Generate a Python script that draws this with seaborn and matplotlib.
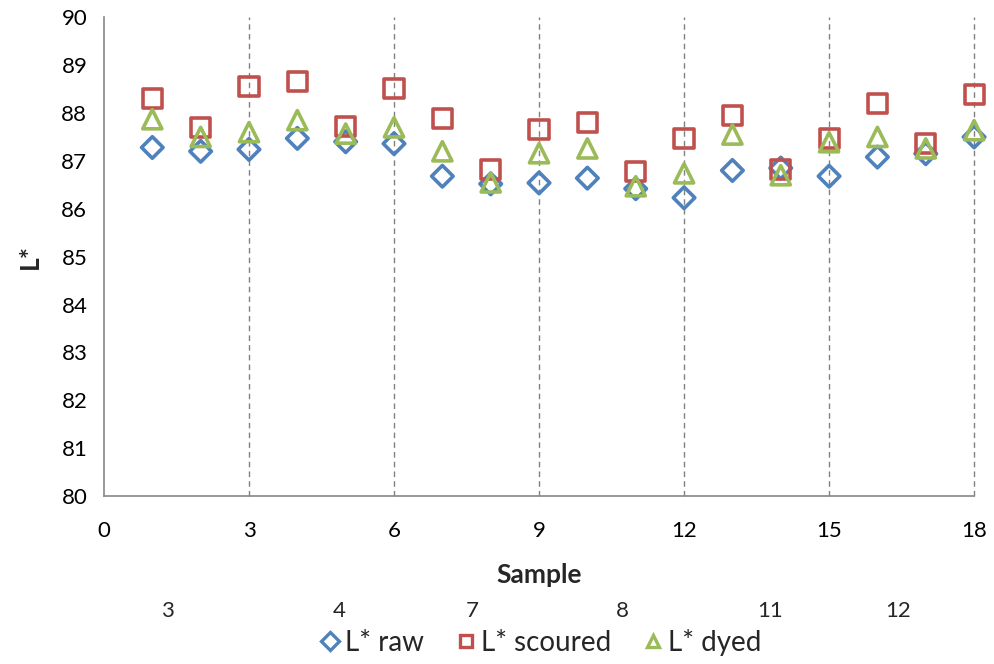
import matplotlib
matplotlib.use("Agg")
import matplotlib.pyplot as plt
import matplotlib.transforms as mtransforms
from matplotlib.lines import Line2D
import pandas as pd
import seaborn as sns

# Data
samples = list(range(1, 19))
l_raw = [87.28, 87.2, 87.24, 87.47, 87.4, 87.36, 86.68, 86.52, 86.54, 86.64,
         86.42, 86.23, 86.8, 86.85, 86.68, 87.08, 87.15, 87.5]
l_scoured = [88.31, 87.7, 88.56, 88.65, 87.72, 88.52, 87.89, 86.82, 87.66, 87.8,
             86.78, 87.47, 87.95, 86.82, 87.47, 88.2, 87.37, 88.39]
l_dyed = [87.87, 87.5, 87.6, 87.85, 87.57, 87.7, 87.2, 86.55, 87.16, 87.26,
          86.47, 86.74, 87.55, 86.7, 87.39, 87.5, 87.26, 87.64]
x_ticks = [0, 3, 6, 9, 12, 15, 18]
group_labels = ["3", "4", "7", "8", "11", "12"]
group_pos = [1.32, 4.86, 7.61, 10.72, 13.78, 16.43]

series = [
    ("L* raw", l_raw, "#4F81BD", "D", 120),
    ("L* scoured", l_scoured, "#C0504D", "s", 190),
    ("L* dyed", l_dyed, "#9BBB59", "^", 190),
]

sns.set_style("white")
plt.rcParams["font.family"] = ["Lato", "DejaVu Sans"]

fig = plt.figure(figsize=(9.95, 6.64), dpi=100)
ax = fig.add_axes([0.1045, 0.253, 0.8745, 0.721])

for name, vals, col, mk, sz in series:
    df = pd.DataFrame({"Sample": samples, "L*": vals})
    sns.scatterplot(data=df, x="Sample", y="L*", ax=ax, marker=mk, s=sz,
                    color=col, linewidth=2.6, zorder=3, clip_on=False)
    pts = ax.collections[-1]
    pts.set_facecolor("none")
    pts.set_edgecolor(col)

ax.set_xlim(0, 18)
ax.set_ylim(80, 90)
ax.set_xticks(x_ticks)
ax.set_yticks(range(80, 91))
for xv in x_ticks[1:]:
    ax.axvline(xv, color="#808080", linestyle=(0, (4, 3)), linewidth=1, zorder=1,
               clip_on=False)

for side in ["top", "right"]:
    ax.spines[side].set_visible(False)
for side in ["left", "bottom"]:
    ax.spines[side].set_color("#888888")
    ax.spines[side].set_linewidth(1.2)
ax.tick_params(axis="both", labelsize=16, colors="#888888", labelcolor="black",
               direction="out", length=6, width=1)
ax.tick_params(axis="x", pad=12)
ax.tick_params(axis="y", pad=6)

ax.set_ylabel("L*", fontsize=19, fontweight="bold", labelpad=14)
ax.set_xlabel("")
ax.text(0.5, -0.165, "Sample", transform=ax.transAxes, ha="center", va="center",
        fontsize=19, fontweight="bold")

trans = mtransforms.blended_transform_factory(ax.transData, ax.transAxes)
for lab, xp in zip(group_labels, group_pos):
    ax.text(xp, -0.24, lab, transform=trans, ha="center", va="center", fontsize=16)

handles = [Line2D([], [], linestyle="", marker=mk, markersize=9, markerfacecolor="none",
                  markeredgecolor=col, markeredgewidth=2.4, label=name)
           for name, vals, col, mk, sz in series]
ax.legend(handles=handles, loc="center", bbox_to_anchor=(0.5, -0.305), ncol=3,
          frameon=False, fontsize=20, handletextpad=0.05, columnspacing=1.0,
          handlelength=1.0)

fig.savefig("out.png", dpi=100)
